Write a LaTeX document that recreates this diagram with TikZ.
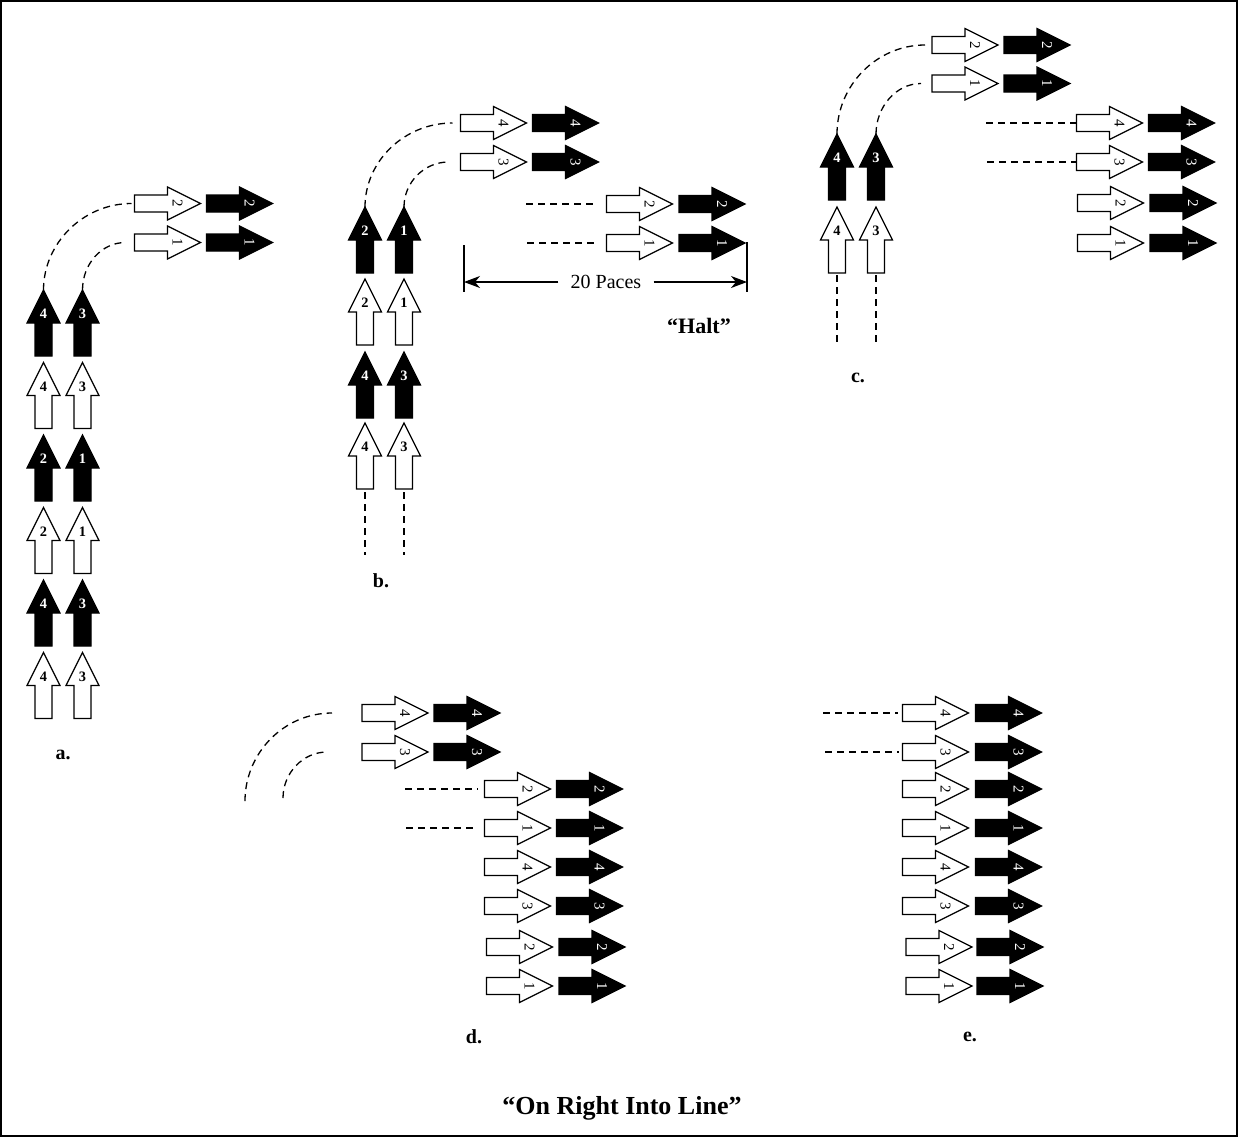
\documentclass[tikz,border=0pt]{standalone}
\usepackage{fontspec}
\setmainfont{Liberation Serif}
\usetikzlibrary{arrows.meta,calc}
\tikzset{
  arrline/.style={line width=0.6pt,draw=black},
  dgb/.style={font=\fontsize{7.2}{7.2}\selectfont\bfseries,inner sep=0pt},
  dgr/.style={font=\fontsize{7.5}{7.5}\selectfont,inner sep=0pt,rotate=-90},
  wu/.pic={\path[arrline,fill=white] (0,-33) -- (16.5,0) -- (8.5,0) -- (8.5,33) -- (-8.5,33) -- (-8.5,0) -- (-16.5,0) -- cycle;
    \node[dgb,text=black] (-n) at (0,-9) {#1};
    \coordinate (-tip) at (0,-33); \coordinate (-tail) at (0,33);},
  bu/.pic={\path[arrline,fill=black] (0,-33) -- (16.5,0) -- (8.5,0) -- (8.5,33) -- (-8.5,33) -- (-8.5,0) -- (-16.5,0) -- cycle;
    \node[dgb,text=white] (-n) at (0,-9) {#1};
    \coordinate (-tip) at (0,-33); \coordinate (-tail) at (0,33);},
  wr/.pic={\path[arrline,fill=white] (33,0) -- (0,-16.5) -- (0,-8.5) -- (-33,-8.5) -- (-33,8.5) -- (0,8.5) -- (0,16.5) -- cycle;
    \node[dgr,text=black] (-n) at (10,0) {#1};
    \coordinate (-tip) at (33,0); \coordinate (-tail) at (-33,0);},
  br/.pic={\path[arrline,fill=black] (33,0) -- (0,-16.5) -- (0,-8.5) -- (-33,-8.5) -- (-33,8.5) -- (0,8.5) -- (0,16.5) -- cycle;
    \node[dgr,text=white] (-n) at (10,0) {#1};
    \coordinate (-tip) at (33,0); \coordinate (-tail) at (-33,0);},
  dashline/.style={line width=0.65pt,dash pattern=on 3.5pt off 2.5pt},
  lbl/.style={font=\fontsize{10}{10}\selectfont\bfseries,inner sep=0pt},
  plain/.style={font=\fontsize{10}{10}\selectfont,inner sep=0pt},
  dimline/.style={line width=0.6pt},
  dimarrow/.style={line width=0.6pt,-{Stealth[length=8pt,width=6pt,inset=2.5pt]}},
}
\begin{document}
\begin{tikzpicture}[x=0.5pt,y=-0.5pt]
\useasboundingbox (0,0) rectangle (1238,1137);
\draw[line width=1pt] (1,1) rectangle (1237,1136);

% ---------- panel a ----------
\pic (a-1l) at (43.5,323) {bu=4};   \pic (a-1r) at (82.5,323) {bu=3};
\pic (a-2l) at (43.5,395.5) {wu=4}; \pic (a-2r) at (82.5,395.5) {wu=3};
\pic (a-3l) at (43.5,468) {bu=2};   \pic (a-3r) at (82.5,468) {bu=1};
\pic (a-4l) at (43.5,540.5) {wu=2}; \pic (a-4r) at (82.5,540.5) {wu=1};
\pic (a-5l) at (43.5,613) {bu=4};   \pic (a-5r) at (82.5,613) {bu=3};
\pic (a-6l) at (43.5,685.5) {wu=4}; \pic (a-6r) at (82.5,685.5) {wu=3};
\pic (a-w2) at (167.5,203.5) {wr=2}; \pic (a-b2) at (239.5,203.5) {br=2};
\pic (a-w1) at (167.5,242.5) {wr=1}; \pic (a-b1) at (239.5,242.5) {br=1};
\draw[dashline] (a-1l-tip) .. controls +(0,-47) and +(-48,0) .. ($(a-w2-tail)+(-3,0)$);
\draw[dashline] (a-1r-tip) .. controls +(0,-26) and +(-24,0) .. ($(a-w1-tail)+(-9,0)$);
\node[lbl] (a-label) at (63,755) {a.};

% ---------- panel b ----------
\pic (b-1l) at (365,240) {bu=2}; \pic (b-1r) at (404,240) {bu=1};
\pic (b-2l) at (365,312) {wu=2}; \pic (b-2r) at (404,312) {wu=1};
\pic (b-3l) at (365,385) {bu=4}; \pic (b-3r) at (404,385) {bu=3};
\pic (b-4l) at (365,456) {wu=4}; \pic (b-4r) at (404,456) {wu=3};
\coordinate (b-endl) at (365,555); \coordinate (b-endr) at (404,555);
\draw[dashline,shorten <=1.5pt] (b-4l-tail) -- (b-endl);
\draw[dashline,shorten <=1.5pt] (b-4r-tail) -- (b-endr);
\pic (b-w4) at (493.5,123) {wr=4}; \pic (b-b4) at (565.5,123) {br=4};
\pic (b-w3) at (493.5,162) {wr=3}; \pic (b-b3) at (565.5,162) {br=3};
\pic (b-w2) at (639.5,204) {wr=2}; \pic (b-b2) at (712,204) {br=2};
\pic (b-w1) at (639.5,243) {wr=1}; \pic (b-b1) at (712,243) {br=1};
\coordinate (b-h2) at (526,204); \coordinate (b-h1) at (527,243);
\draw[dashline,shorten >=4.5pt] (b-h2) -- (b-w2-tail);
\draw[dashline,shorten >=4.5pt] (b-h1) -- (b-w1-tail);
\draw[dashline] (b-1l-tip) .. controls +(0,-46) and +(-48,0) .. ($(b-w4-tail)+(-8,0)$);
\draw[dashline] (b-1r-tip) .. controls +(0,-25) and +(-24,0) .. ($(b-w3-tail)+(-12,0)$);
\coordinate (b-barLt) at (464,245); \coordinate (b-barLb) at (464,292);
\coordinate (b-barRt) at (747,242); \coordinate (b-barRb) at (747,292);
\coordinate (b-barL) at (464,282); \coordinate (b-barR) at (747,282);
\draw[dimline] (b-barLt) -- (b-barLb);
\draw[dimline] (b-barRt) -- (b-barRb);
\node[plain] (paces) at (606,282) {20 Paces};
\draw[dimarrow,shorten <=6pt] (paces.west) -- (b-barL);
\draw[dimarrow,shorten <=6pt] (paces.east) -- (b-barR);
\node[font=\fontsize{11}{11}\selectfont\bfseries,inner sep=0pt] (halt) at (699,326) {“Halt”};
\node[lbl] (b-label) at (381,581) {b.};

% ---------- panel c ----------
\pic (c-1l) at (837,167) {bu=4}; \pic (c-1r) at (876,167) {bu=3};
\pic (c-2l) at (837,240) {wu=4}; \pic (c-2r) at (876,240) {wu=3};
\coordinate (c-endl) at (837,345); \coordinate (c-endr) at (876,345);
\draw[dashline,shorten <=1pt] (c-2l-tail) -- (c-endl);
\draw[dashline,shorten <=1pt] (c-2r-tail) -- (c-endr);
\pic (c-w2) at (965,45) {wr=2};   \pic (c-b2) at (1037,45) {br=2};
\pic (c-w1) at (965,83.5) {wr=1}; \pic (c-b1) at (1037,83.5) {br=1};
\draw[dashline] (c-1l-tip) .. controls +(0,-49) and +(-48,0) .. ($(c-w2-tail)+(-7,0)$);
\draw[dashline] (c-1r-tip) .. controls +(0,-27) and +(-25,0) .. ($(c-w1-tail)+(-11,0)$);
\pic (c-w4) at (1109.5,123) {wr=4}; \pic (c-b4) at (1181.5,123) {br=4};
\pic (c-w3) at (1109.5,162) {wr=3}; \pic (c-b3) at (1181.5,162) {br=3};
\pic (c-w2b) at (1110.5,203) {wr=2}; \pic (c-b2b) at (1183,203) {br=2};
\pic (c-w1b) at (1110.5,243) {wr=1}; \pic (c-b1b) at (1183,243) {br=1};
\coordinate (c-h4) at (986,123); \coordinate (c-h3) at (987,162);
\draw[dashline,shorten >=0.5pt] (c-h4) -- (c-w4-tail);
\draw[dashline,shorten >=0.5pt] (c-h3) -- (c-w3-tail);
\node[lbl] (c-label) at (858,378) {c.};

% ---------- panel d ----------
\pic (d-w4) at (395,713) {wr=4}; \pic (d-b4) at (467,713) {br=4};
\pic (d-w3) at (395,752) {wr=3}; \pic (d-b3) at (467,752) {br=3};
\coordinate (d-c1) at (245,801); \coordinate (d-c2) at (283,798);
\draw[dashline] (d-c1) .. controls +(0,-48) and +(-48,0) .. ($(d-w4-tail)+(-30,0)$);
\draw[dashline] (d-c2) .. controls +(0,-25) and +(-24,0) .. ($(d-w3-tail)+(-35,0)$);
\pic (d-w2) at (517.5,789) {wr=2};  \pic (d-b2) at (589.5,789) {br=2};
\pic (d-w1) at (517.5,828) {wr=1};  \pic (d-b1) at (589.5,828) {br=1};
\pic (d-w4b) at (517.5,867) {wr=4}; \pic (d-b4b) at (589.5,867) {br=4};
\pic (d-w3b) at (517.5,906) {wr=3}; \pic (d-b3b) at (589.5,906) {br=3};
\pic (d-w2b) at (519.5,947) {wr=2}; \pic (d-b2b) at (592,947) {br=2};
\pic (d-w1b) at (519.5,986) {wr=1}; \pic (d-b1b) at (592,986) {br=1};
\coordinate (d-h2) at (405,789); \coordinate (d-h1) at (406,828);
\draw[dashline,shorten >=3.5pt] (d-h2) -- (d-w2-tail);
\draw[dashline,shorten >=3.5pt] (d-h1) -- (d-w1-tail);
\node[lbl] (d-label) at (474,1037) {d.};

% ---------- panel e ----------
\pic (e-w4) at (935.5,713) {wr=4}; \pic (e-b4) at (1008.5,713) {br=4};
\pic (e-w3) at (935.5,752) {wr=3}; \pic (e-b3) at (1008.5,752) {br=3};
\pic (e-w2) at (935.5,789) {wr=2}; \pic (e-b2) at (1008.5,789) {br=2};
\pic (e-w1) at (935.5,828) {wr=1}; \pic (e-b1) at (1008.5,828) {br=1};
\pic (e-w4b) at (935.5,867) {wr=4}; \pic (e-b4b) at (1008.5,867) {br=4};
\pic (e-w3b) at (935.5,906) {wr=3}; \pic (e-b3b) at (1008.5,906) {br=3};
\pic (e-w2b) at (939,947) {wr=2};   \pic (e-b2b) at (1010,947) {br=2};
\pic (e-w1b) at (939,986) {wr=1};   \pic (e-b1b) at (1010,986) {br=1};
\coordinate (e-h4) at (823,713); \coordinate (e-h3) at (825,752);
\draw[dashline,shorten >=2.5pt] (e-h4) -- (e-w4-tail);
\draw[dashline,shorten >=2pt] (e-h3) -- (e-w3-tail);
\node[lbl] (e-label) at (970,1037) {e.};

% ---------- title ----------
\node[font=\fontsize{13}{13}\selectfont\bfseries,inner sep=0pt] (title) at (622,1108) {“On Right Into Line”};
\end{tikzpicture}
\end{document}
